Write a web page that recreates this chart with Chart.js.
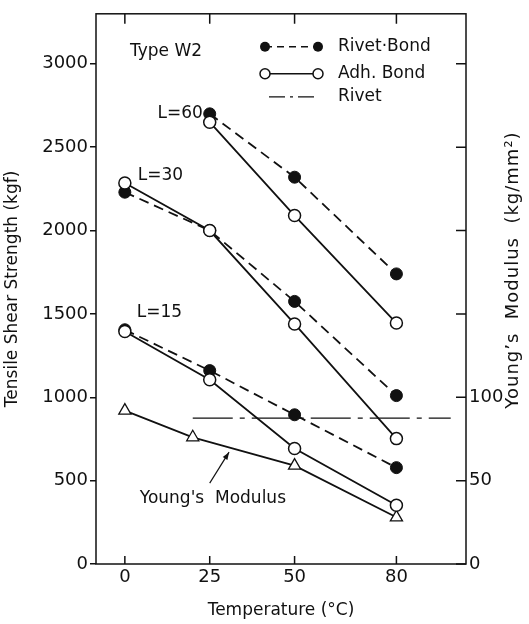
<!DOCTYPE html>
<html><head><meta charset="utf-8">
<script src="https://cdn.jsdelivr.net/npm/chart.js@4"></script>
<style>html,body{margin:0;padding:0;background:#fff}#wrap{width:529px;height:624px;position:relative}</style>
</head><body><div id="wrap"><canvas id="c"></canvas></div>
<script>
// ---- data ----
const temps = [0, 25, 50, 80];
const temps60 = [25, 50, 80];
const rivetBond60 = [2700, 2320, 1740];
const rivetBond30 = [2230, 2000, 1575, 1010];
const rivetBond15 = [1405, 1160, 895, 578];
const adhBond60 = [2650, 2090, 1445];
const adhBond30 = [2285, 2000, 1440, 752];
const adhBond15 = [1395, 1105, 693, 352];
const youngTemps = [0, 20, 50, 80];
const youngModulus = [92, 76, 59, 28];
const rivetTemps = [20, 96];
const rivetStrength = [875, 875];
const xTicks = [0, 25, 50, 80];
const leftTicks = [0, 500, 1000, 1500, 2000, 2500, 3000];
const rightTicks = [0, 50, 100, 150, 200, 250, 300];
const rightLabelled = [0, 50, 100];
const notes = [
  {text: 'Type W2', x: 1.5, y: 3075, align: 'left'},
  {text: 'L=60', x: 23, y: 2700, align: 'right'},
  {text: 'L=30', x: 3.8, y: 2330, align: 'left'},
  {text: 'L=15', x: 3.5, y: 1510, align: 'left'},
  {text: "Young's  Modulus", x: 4.4, y: 395, align: 'left'}
];
const arrowFrom = [25, 485], arrowTo = [30.7, 671];
const legendLabels = ['Rivet·Bond', 'Adh. Bond', 'Rivet'];

const pts = (xs, ys) => xs.map((x, i) => ({x, y: ys[i]}));
const INK = '#111';
const FONT = 'DejaVu Sans';
Chart.defaults.font.family = FONT;
Chart.defaults.color = INK;

const adh = (d) => ({data: d, borderColor: INK, borderWidth: 1.8, backgroundColor: '#fff',
  pointBackgroundColor: '#fff', pointBorderColor: INK, pointBorderWidth: 1.5, pointRadius: 6, yAxisID: 'y'});
const rb = (d) => ({data: d, borderColor: INK, borderWidth: 1.8, borderDash: [10, 6], backgroundColor: INK,
  pointBackgroundColor: INK, pointBorderColor: INK, pointBorderWidth: 1, pointRadius: 6, yAxisID: 'y'});

const decor = {
  id: 'decor',
  afterDatasetsDraw(chart) {
    const {ctx, chartArea: a, scales: {x, y, y2}} = chart;
    ctx.save();
    ctx.strokeStyle = INK; ctx.fillStyle = INK; ctx.lineWidth = 1.5;
    ctx.strokeRect(a.left, a.top, a.right - a.left, a.bottom - a.top);
    ctx.beginPath();
    xTicks.forEach(v => {
      const px = x.getPixelForValue(v);
      ctx.moveTo(px, a.bottom); ctx.lineTo(px, a.bottom - 8);
      ctx.moveTo(px, a.top); ctx.lineTo(px, a.top + 10);
    });
    rightTicks.forEach(v => {
      const py = y2.getPixelForValue(v);
      ctx.moveTo(a.right, py); ctx.lineTo(a.right - 10, py);
    });
    ctx.stroke();
    // annotations
    ctx.font = '17px ' + FONT; ctx.textBaseline = 'middle';
    notes.forEach(n => {
      ctx.textAlign = n.align;
      ctx.fillText(n.text, x.getPixelForValue(n.x), y.getPixelForValue(n.y));
    });
    // arrow
    const fx = x.getPixelForValue(arrowFrom[0]), fy = y.getPixelForValue(arrowFrom[1]);
    const tx = x.getPixelForValue(arrowTo[0]), ty = y.getPixelForValue(arrowTo[1]);
    ctx.lineWidth = 1.2;
    ctx.beginPath(); ctx.moveTo(fx, fy); ctx.lineTo(tx, ty); ctx.stroke();
    const ang = Math.atan2(ty - fy, tx - fx);
    ctx.beginPath();
    ctx.moveTo(tx, ty);
    ctx.lineTo(tx - 8 * Math.cos(ang - 0.35), ty - 8 * Math.sin(ang - 0.35));
    ctx.lineTo(tx - 8 * Math.cos(ang + 0.35), ty - 8 * Math.sin(ang + 0.35));
    ctx.closePath(); ctx.fill();
    // legend
    const lx0 = a.left + 169, lx1 = a.left + 222, tx0 = a.left + 242;
    const rows = [a.top + 33, a.top + 60, a.top + 83];
    ctx.lineWidth = 1.5;
    ctx.setLineDash([7, 5]);
    ctx.beginPath(); ctx.moveTo(lx0, rows[0]); ctx.lineTo(lx1, rows[0]); ctx.stroke();
    ctx.setLineDash([]);
    [lx0, lx1].forEach(px => { ctx.beginPath(); ctx.arc(px, rows[0], 5, 0, Math.PI * 2); ctx.fill(); });
    ctx.beginPath(); ctx.moveTo(lx0, rows[1]); ctx.lineTo(lx1, rows[1]); ctx.stroke();
    ctx.fillStyle = '#fff';
    [lx0, lx1].forEach(px => { ctx.beginPath(); ctx.arc(px, rows[1], 5, 0, Math.PI * 2); ctx.fill(); ctx.stroke(); });
    ctx.fillStyle = INK;
    ctx.lineWidth = 1.2;
    ctx.setLineDash([16, 5, 3, 5]);
    ctx.beginPath(); ctx.moveTo(lx0 + 4, rows[2]); ctx.lineTo(lx1, rows[2]); ctx.stroke();
    ctx.setLineDash([]);
    ctx.textAlign = 'left';
    legendLabels.forEach((t, i) => ctx.fillText(t, tx0, rows[i]));
    // right axis title (reads bottom-to-top like the original)
    ctx.save();
    ctx.font = '18px ' + FONT;
    if ('letterSpacing' in ctx) ctx.letterSpacing = '1px';
    ctx.translate(513, 270); ctx.rotate(-Math.PI / 2);
    ctx.textAlign = 'center';
    ctx.fillText('Young\u2019s  Modulus  (kg/mm\u00B2)', 0, 0);
    ctx.restore();
    ctx.restore();
  }
};

const plain = v => String(v);

new Chart(document.getElementById('c'), {
  type: 'line',
  data: {
    datasets: [
      adh(pts(temps60, adhBond60)),
      adh(pts(temps, adhBond30)),
      adh(pts(temps, adhBond15)),
      rb(pts(temps60, rivetBond60)),
      rb(pts(temps, rivetBond30)),
      rb(pts(temps, rivetBond15)),
      {data: pts(youngTemps, youngModulus), yAxisID: 'y2', borderColor: INK, borderWidth: 1.8,
        pointStyle: 'triangle', pointRadius: 7, pointBackgroundColor: '#fff', pointBorderColor: INK, pointBorderWidth: 1.3},
      {data: pts(rivetTemps, rivetStrength), yAxisID: 'y', borderColor: INK, borderWidth: 1.2,
        borderDash: [40, 7, 5, 7], pointRadius: 0}
    ]
  },
  options: {
    responsive: true, maintainAspectRatio: false, animation: false,
    layout: {padding: {top: 12, left: 0, right: 0, bottom: 0}},
    plugins: {legend: {display: false}, tooltip: {enabled: false}},
    scales: {
      x: {
        type: 'linear', min: -8.5, max: 100.5,
        afterBuildTicks: s => { s.ticks = xTicks.map(v => ({value: v})); },
        afterFit: s => { s.height = 60; },
        grid: {display: false, drawTicks: false},
        border: {display: false},
        ticks: {font: {size: 18}, padding: 3, color: INK, maxRotation: 0, callback: plain},
        title: {display: true, text: 'Temperature (°C)', font: {size: 17}, color: INK, padding: {top: 0, bottom: 3}}
      },
      y: {
        type: 'linear', position: 'left', min: 0, max: 3300,
        afterBuildTicks: s => { s.ticks = leftTicks.map(v => ({value: v})); },
        afterFit: s => { s.width = 96; },
        grid: {drawOnChartArea: false, drawTicks: true, tickLength: 6, color: INK, lineWidth: 1.5},
        border: {display: false},
        ticks: {font: {size: 18}, padding: 2, color: INK, callback: plain},
        title: {display: true, text: 'Tensile Shear Strength (kgf)', font: {size: 17}, color: INK, padding: {top: 2, bottom: 0}}
      },
      y2: {
        type: 'linear', position: 'right', min: 0, max: 330,
        afterBuildTicks: s => { s.ticks = rightLabelled.map(v => ({value: v})); },
        afterFit: s => { s.width = 63; },
        grid: {display: false, drawTicks: false},
        border: {display: false},
        ticks: {font: {size: 18}, padding: 3, color: INK, callback: plain}
      }
    }
  },
  plugins: [decor]
});
</script></body></html>
